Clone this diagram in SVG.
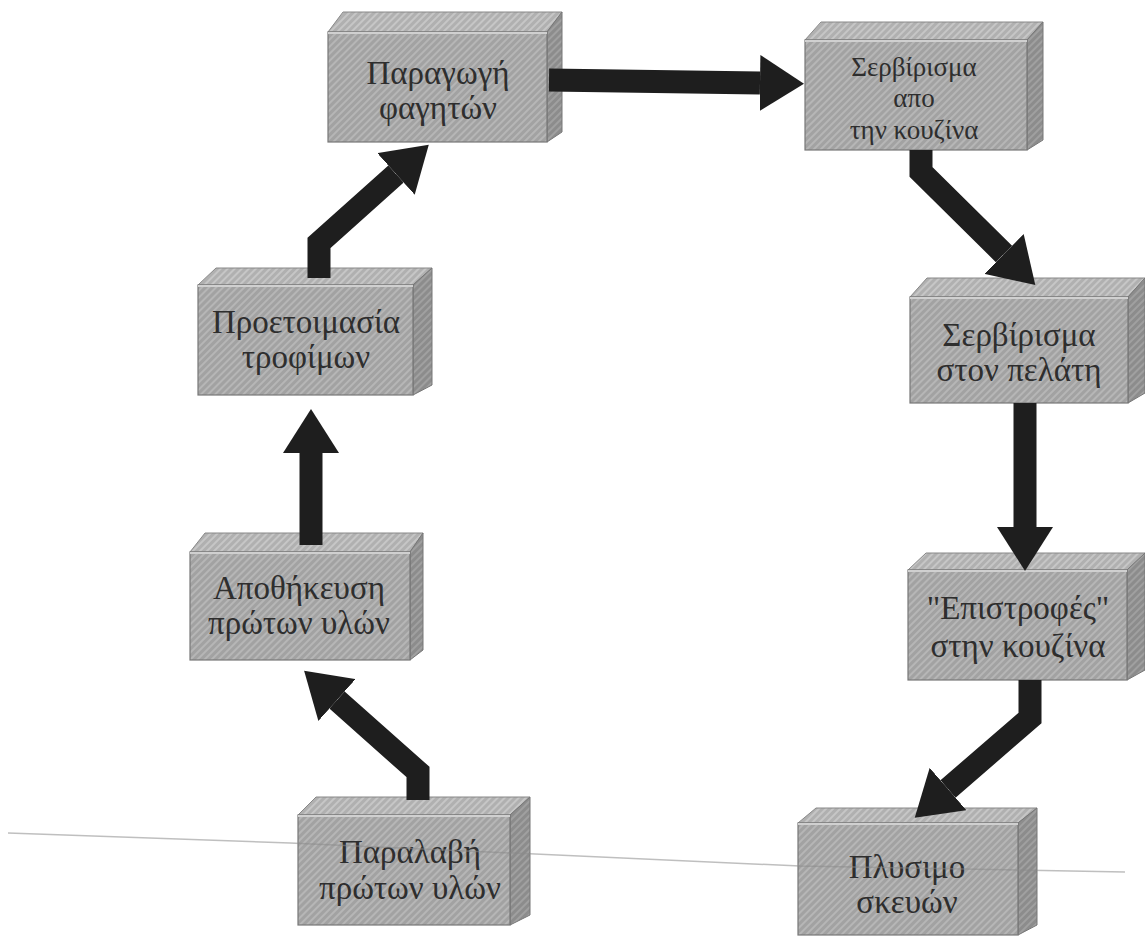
<svg xmlns="http://www.w3.org/2000/svg" width="1145" height="946" viewBox="0 0 1145 946">
<style>
.front{fill:url(#hatchF);stroke:#777;stroke-width:1.2}
.top{fill:url(#hatchT);stroke:#888;stroke-width:1}
.side{fill:url(#hatchS);stroke:#777;stroke-width:1}
.lbl{font-family:"Liberation Serif","DejaVu Serif",serif;font-size:33px;fill:#2e2e2e;text-anchor:middle}
.lbl3{font-family:"Liberation Serif","DejaVu Serif",serif;font-size:27px;fill:#2e2e2e;text-anchor:middle}
.arr{fill:none;stroke:#1e1e1e;stroke-width:23;stroke-linejoin:miter;marker-end:url(#head)}
</style>
<defs>
<pattern id="hatchF" patternUnits="userSpaceOnUse" width="5" height="5" patternTransform="rotate(-45)">
<rect width="5" height="5" fill="#a2a2a2"/><rect width="5" height="2" fill="#b6b6b6"/>
</pattern>
<pattern id="hatchT" patternUnits="userSpaceOnUse" width="5" height="5" patternTransform="rotate(-45)">
<rect width="5" height="5" fill="#b0b0b0"/><rect width="5" height="2" fill="#c6c6c6"/>
</pattern>
<pattern id="hatchS" patternUnits="userSpaceOnUse" width="5" height="5" patternTransform="rotate(-45)">
<rect width="5" height="5" fill="#8c8c8c"/><rect width="5" height="2" fill="#a0a0a0"/>
</pattern>
<marker id="head" markerUnits="userSpaceOnUse" viewBox="0 -28 44 56" markerWidth="44" markerHeight="56" refX="0" refY="0" orient="auto">
<path d="M0,-28 L44,0 L0,28 Z" fill="#1e1e1e"/>
</marker>
</defs>
<rect width="1145" height="946" fill="#ffffff"/>

<g id="n1">
<polygon class="top" points="328,32 343,12 562,12 547,32"/>
<polygon class="side" points="547,32 562,12 562,132 547,142"/>
<rect class="front" x="328" y="32" width="219" height="110"/>
<line x1="328" y1="33" x2="547" y2="33" stroke="#d0d0d0" stroke-width="2"/>
<text class="lbl" x="438" y="84">Παραγωγή</text>
<text class="lbl" x="438" y="119">φαγητών</text>
</g>

<g id="n2">
<polygon class="top" points="805,40 821,22 1043,22 1027,40"/>
<polygon class="side" points="1027,40 1043,22 1043,140 1027,150"/>
<rect class="front" x="805" y="40" width="222" height="110"/>
<line x1="805" y1="41" x2="1027" y2="41" stroke="#d0d0d0" stroke-width="2"/>
<text class="lbl3" x="914" y="76">Σερβίρισμα</text>
<text class="lbl3" x="914" y="107">απο</text>
<text class="lbl3" x="914" y="139">την κουζίνα</text>
</g>

<g id="n3">
<polygon class="top" points="198,285 216,268 432,268 413,285"/>
<polygon class="side" points="413,285 432,268 432,385 413,395"/>
<rect class="front" x="198" y="285" width="215" height="110"/>
<line x1="198" y1="286" x2="413" y2="286" stroke="#d0d0d0" stroke-width="2"/>
<text class="lbl" x="306" y="333">Προετοιμασία</text>
<text class="lbl" x="306" y="368">τροφίμων</text>
</g>

<g id="n4">
<polygon class="top" points="910,297 927,278 1145,278 1128,297"/>
<polygon class="side" points="1128,297 1145,278 1145,393 1128,403"/>
<rect class="front" x="910" y="297" width="218" height="106"/>
<line x1="910" y1="298" x2="1128" y2="298" stroke="#d0d0d0" stroke-width="2"/>
<text class="lbl" x="1019" y="346">Σερβίρισμα</text>
<text class="lbl" x="1019" y="381">στον πελάτη</text>
</g>

<g id="n5">
<polygon class="top" points="190,552 205,533 423,533 410,552"/>
<polygon class="side" points="410,552 423,533 423,650 410,660"/>
<rect class="front" x="190" y="552" width="220" height="108"/>
<line x1="190" y1="553" x2="410" y2="553" stroke="#d0d0d0" stroke-width="2"/>
<text class="lbl" x="299" y="599">Αποθήκευση</text>
<text class="lbl" x="299" y="634">πρώτων υλών</text>
</g>

<g id="n6">
<polygon class="top" points="908,570 926,553 1145,553 1127,570"/>
<polygon class="side" points="1127,570 1145,553 1145,670 1127,680"/>
<rect class="front" x="908" y="570" width="219" height="110"/>
<line x1="908" y1="571" x2="1127" y2="571" stroke="#d0d0d0" stroke-width="2"/>
<text class="lbl" x="1018" y="619">"Επιστροφές"</text>
<text class="lbl" x="1018" y="657">στην κουζίνα</text>
</g>

<g id="n7">
<polygon class="top" points="298,815 316,797 530,797 510,815"/>
<polygon class="side" points="510,815 530,797 530,915 510,925"/>
<rect class="front" x="298" y="815" width="212" height="110"/>
<line x1="298" y1="816" x2="510" y2="816" stroke="#d0d0d0" stroke-width="2"/>
<text class="lbl" x="410" y="863">Παραλαβή</text>
<text class="lbl" x="410" y="899">πρώτων υλών</text>
</g>

<g id="n8">
<polygon class="top" points="798,823 816,808 1037,808 1018,823"/>
<polygon class="side" points="1018,823 1037,808 1037,925 1018,935"/>
<rect class="front" x="798" y="823" width="220" height="112"/>
<line x1="798" y1="824" x2="1018" y2="824" stroke="#d0d0d0" stroke-width="2"/>
<text class="lbl" x="907" y="878">Πλυσιμο</text>
<text class="lbl" x="907" y="913">σκευών</text>
</g>

<g id="connectors">
<polyline class="arr" points="549,80 760,83"/>
<polyline class="arr" points="921,150 921,172 1004,254"/>
<polyline class="arr" points="1025,403 1025,527"/>
<polyline class="arr" points="1030,680 1030,718 948,789"/>
<polyline class="arr" points="418,800 418,772 337,700"/>
<polyline class="arr" points="311,545 311,453"/>
<polyline class="arr" points="319,278 319,243 396,174"/>
</g>
<polyline points="8,833 290,843 800,866 1125,872" fill="none" stroke="#8a8a8a" stroke-opacity="0.55" stroke-width="1.5"/>
</svg>
